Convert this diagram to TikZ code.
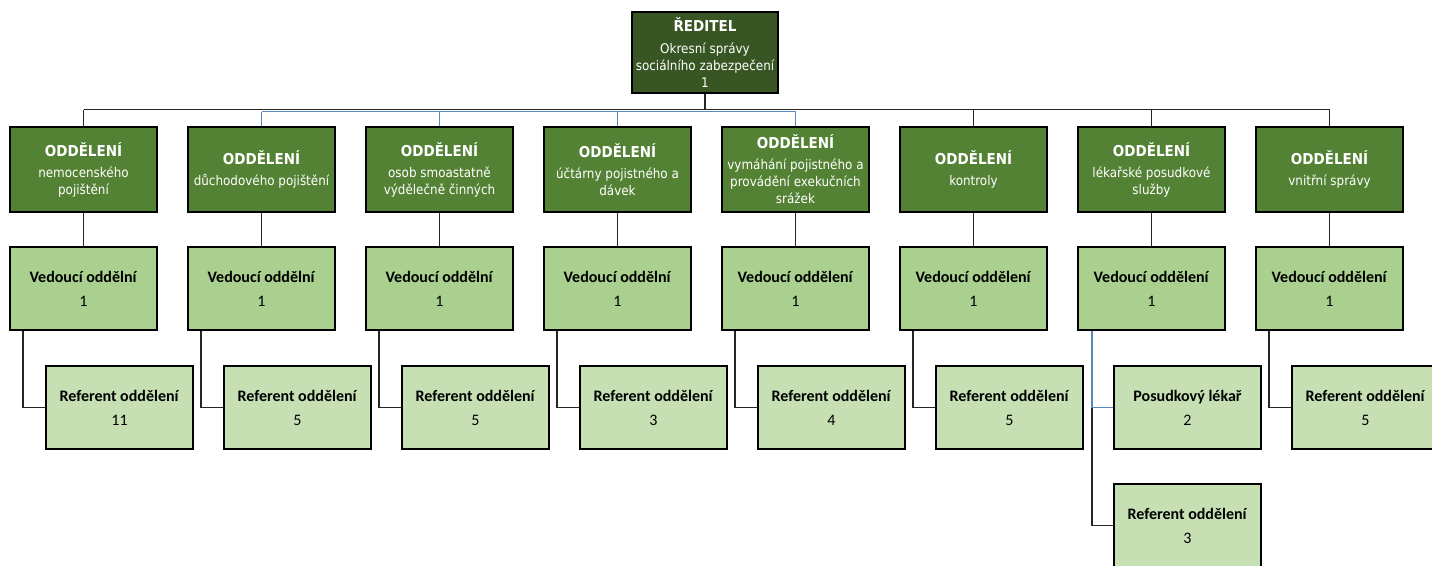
\documentclass[tikz,border=0pt]{standalone}
\usepackage{fontspec}
\setmainfont{Carlito}
\newfontfamily\tahoma{DejaVu Sans Condensed}
\usetikzlibrary{positioning}
\usetikzlibrary{calc}
\definecolor{topgreen}{HTML}{375623}
\definecolor{deptgreen}{HTML}{548235}
\definecolor{headgreen}{HTML}{A9D08E}
\definecolor{refgreen}{HTML}{C6E0B4}
\definecolor{linkblue}{HTML}{5B87BF}

\begin{document}
\begin{tikzpicture}[x=1pt, y=-1pt,
        director/.style={draw=black, line width=1.8pt, fill=topgreen, text=white, minimum width=146pt, minimum height=81pt, align=center, inner sep=0pt, font=\tahoma\fontsize{13.3}{17}\selectfont},
        dept/.style={draw=black, line width=1.8pt, fill=deptgreen, text=white, minimum width=147pt, minimum height=85pt, align=center, inner sep=0pt, font=\tahoma\fontsize{13.3}{17}\selectfont},
        head/.style={draw=black, line width=1.8pt, fill=headgreen, minimum width=147pt, minimum height=83pt, align=center, inner sep=0pt, font=\fontsize{16}{19}\selectfont},
        referent/.style={draw=black, line width=1.8pt, fill=refgreen, minimum width=147pt, minimum height=83pt, align=center, inner sep=0pt, font=\fontsize{16}{19}\selectfont},
        link/.style={draw=black!85, line width=1.8pt},
        bluelink/.style={draw=linkblue, line width=1.6pt}]
        \useasboundingbox (0,0) rectangle (1432,565);

        \node[director] (director) at (705,52.5) {{\bfseries\fontsize{15}{17}\selectfont ŘEDITEL}\\[5pt]Okresní správy\\sociálního zabezpečení\\1};

        \node[dept] (dept1) at (83.5,169.5) {{\bfseries\fontsize{15}{17}\selectfont ODDĚLENÍ}\\[4pt]nemocenského\\pojištění};
        \node[dept] (dept2) at (261.5,169.5) {{\bfseries\fontsize{15}{17}\selectfont ODDĚLENÍ}\\[4pt]důchodového pojištění};
        \node[dept] (dept3) at (439.5,169.5) {{\bfseries\fontsize{15}{17}\selectfont ODDĚLENÍ}\\[4pt]osob smoastatně\\výdělečně činných};
        \node[dept] (dept4) at (617.5,169.5) {{\bfseries\fontsize{15}{17}\selectfont ODDĚLENÍ}\\[4pt]účtárny pojistného a\\dávek};
        \node[dept] (dept5) at (795.5,169.5) {{\bfseries\fontsize{15}{17}\selectfont ODDĚLENÍ}\\[4pt]vymáhání pojistného a\\provádění exekučních\\srážek};
        \node[dept] (dept6) at (973.5,169.5) {{\bfseries\fontsize{15}{17}\selectfont ODDĚLENÍ}\\[4pt]kontroly};
        \node[dept] (dept7) at (1151.5,169.5) {{\bfseries\fontsize{15}{17}\selectfont ODDĚLENÍ}\\[4pt]lékařské posudkové\\služby};
        \node[dept] (dept8) at (1329.5,169.5) {{\bfseries\fontsize{15}{17}\selectfont ODDĚLENÍ}\\[4pt]vnitřní správy};

        \node[head] (head1) at (83.5,288.5) {\textbf{Vedoucí oddělní}\\[5pt]1};
        \node[head] (head2) at (261.5,288.5) {\textbf{Vedoucí oddělní}\\[5pt]1};
        \node[head] (head3) at (439.5,288.5) {\textbf{Vedoucí oddělní}\\[5pt]1};
        \node[head] (head4) at (617.5,288.5) {\textbf{Vedoucí oddělní}\\[5pt]1};
        \node[head] (head5) at (795.5,288.5) {\textbf{Vedoucí oddělení}\\[5pt]1};
        \node[head] (head6) at (973.5,288.5) {\textbf{Vedoucí oddělení}\\[5pt]1};
        \node[head] (head7) at (1151.5,288.5) {\textbf{Vedoucí oddělení}\\[5pt]1};
        \node[head] (head8) at (1329.5,288.5) {\textbf{Vedoucí oddělení}\\[5pt]1};

        \node[referent] (ref1) at (119.5,407.5) {\textbf{Referent oddělení}\\[5pt]11};
        \node[referent] (ref2) at (297.5,407.5) {\textbf{Referent oddělení}\\[5pt]5};
        \node[referent] (ref3) at (475.5,407.5) {\textbf{Referent oddělení}\\[5pt]5};
        \node[referent] (ref4) at (653.5,407.5) {\textbf{Referent oddělení}\\[5pt]3};
        \node[referent] (ref5) at (831.5,407.5) {\textbf{Referent oddělení}\\[5pt]4};
        \node[referent] (ref6) at (1009.5,407.5) {\textbf{Referent oddělení}\\[5pt]5};
        \node[referent] (posudek) at (1187.5,407.5) {\textbf{Posudkový lékař}\\[5pt]2};
        \node[referent] (ref7) at (1187.5,525.5) {\textbf{Referent oddělení}\\[5pt]3};
        \node[referent] (ref8) at (1365.5,407.5) {\textbf{Referent oddělení}\\[5pt]5};

        \coordinate (busL) at (83.5,109.5);
        \coordinate (busR) at (1329.5,109.5);
        \coordinate (blueL) at (261.5,111.5);
        \coordinate (blueR) at (795.5,111.5);

        \draw[bluelink] (blueL) -- (blueR);
        \draw[link] (busL) -- (busR);
        \draw[link] (director.south) -- (director.south |- busL);
        \draw[link] (dept1.north) -- (dept1.north |- busL);
        \draw[bluelink] (dept2.north) -- (dept2.north |- blueL);
        \draw[bluelink] (dept3.north) -- (dept3.north |- blueL);
        \draw[bluelink] (dept4.north) -- (dept4.north |- blueL);
        \draw[bluelink] (dept5.north) -- (dept5.north |- blueL);
        \draw[link] (dept6.north) -- (dept6.north |- busL);
        \draw[link] (dept7.north) -- (dept7.north |- busL);
        \draw[link] (dept8.north) -- (dept8.north |- busL);

        \draw[link] (dept1.south) -- (head1.north);
        \draw[link] (dept2.south) -- (head2.north);
        \draw[link] (dept3.south) -- (head3.north);
        \draw[link] (dept4.south) -- (head4.north);
        \draw[link] (dept5.south) -- (head5.north);
        \draw[link] (dept6.south) -- (head6.north);
        \draw[link] (dept7.south) -- (head7.north);
        \draw[link] (dept8.south) -- (head8.north);

        \draw[link] (ref1.west) -| ([xshift=14pt]head1.south west);
        \draw[link] (ref2.west) -| ([xshift=14pt]head2.south west);
        \draw[link] (ref3.west) -| ([xshift=14pt]head3.south west);
        \draw[link] (ref4.west) -| ([xshift=14pt]head4.south west);
        \draw[link] (ref5.west) -| ([xshift=14pt]head5.south west);
        \draw[link] (ref6.west) -| ([xshift=14pt]head6.south west);
        \coordinate (tap7) at ([xshift=15pt]head7.south west);
        \draw[link] (ref7.west) -| (tap7 |- posudek.west);
        \draw[bluelink] (posudek.west) -| (tap7);
        \draw[link] (ref8.west) -| ([xshift=14pt]head8.south west);
\end{tikzpicture}
\end{document}
